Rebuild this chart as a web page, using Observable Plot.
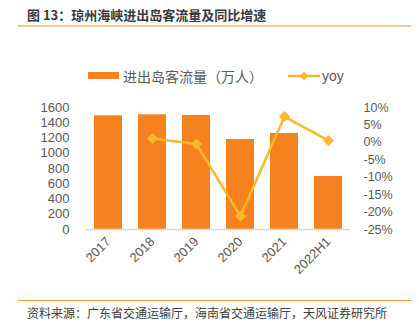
<!DOCTYPE html>
<html><head><meta charset="utf-8">
<script src="https://cdn.jsdelivr.net/npm/d3@7"></script>
<script src="https://cdn.jsdelivr.net/npm/@observablehq/plot@0.6"></script>
<style>
body{margin:0;background:#fff;}
#wrap{position:relative;width:419px;height:329px;overflow:hidden;font-family:"Noto Sans CJK SC","Noto Sans",sans-serif;}
#chart{position:absolute;left:0;top:0;}
.abs{position:absolute;white-space:nowrap;}
#title{left:27px;top:5px;height:20px;line-height:20px;font-size:13px;font-weight:bold;color:#3a3a3a;}
#tline{left:18px;top:25px;width:393px;height:2px;background:#F8C79C;}
#fline{left:18px;top:299.5px;width:393px;height:1.5px;background:#F39C40;}
#foot{left:27px;top:303px;height:20px;line-height:20px;font-size:12px;color:#404040;}
#legRect{left:88px;top:72px;width:31px;height:7px;background:#F5821F;}
#legText1{left:123px;top:66px;height:20px;line-height:20px;font-size:14px;color:#595959;}
#legLine{left:288px;top:70px;}
#legText2{left:322px;top:66px;height:20px;line-height:20px;font-size:14px;color:#595959;font-family:"Liberation Sans",Arial,sans-serif;}
</style></head><body>
<div id="wrap">
  <div id="chart"></div>
  <div class="abs" id="title">图 13：琼州海峡进出岛客流量及同比增速</div>
  <div class="abs" id="tline"></div>
  <div class="abs" id="legRect"></div>
  <div class="abs" id="legText1">进出岛客流量（万人）</div>
  <svg class="abs" id="legLine" width="34" height="12"><line x1="0" y1="6" x2="32" y2="6" stroke="#FBB829" stroke-width="2.5"/><path d="M16,1.5 L20.5,6 L16,10.5 L11.5,6 Z" fill="#FBB829"/></svg>
  <div class="abs" id="legText2">yoy</div>
  <div class="abs" id="fline"></div>
  <div class="abs" id="foot">资料来源：广东省交通运输厅，海南省交通运输厅，天风证券研究所</div>
</div>
<script>
const years = ["2017","2018","2019","2020","2021","2022H1"];
const passengers = [1491, 1504, 1495, 1180, 1259, 695];
const yoyYears = ["2018","2019","2020","2021","2022H1"];
const yoy = [1.1, -0.5, -21.2, 7.4, 0.5];
const leftTicks = [0, 200, 400, 600, 800, 1000, 1200, 1400, 1600];
const rightTicks = [10, 5, 0, -5, -10, -15, -20, -25];

const rMin = -25, rMax = 10, lMax = 1600;
const toLeft = v => (v - rMin) / (rMax - rMin) * lMax;
const fromLeft = v => v / lMax * (rMax - rMin) + rMin;

const barData = years.map((y, i) => ({year: y, value: passengers[i]}));
const lineData = yoyYears.map((y, i) => ({year: y, v: toLeft(yoy[i])}));

const chart = Plot.plot({
  width: 419,
  height: 329,
  marginTop: 107,
  marginBottom: 100,
  marginLeft: 86,
  marginRight: 69,
  style: {fontFamily: "'Liberation Sans', Arial, sans-serif", background: "transparent"},
  x: {domain: years, paddingInner: 0.364, paddingOuter: 0.182},
  y: {domain: [0, lMax]},
  marks: [
    Plot.barY(barData, {x: "year", y: "value", fill: "#F5821F"}),
    Plot.ruleY([0], {stroke: "#D9D9D9", strokeWidth: 1.5}),
    Plot.line(lineData, {x: "year", y: "v", stroke: "#FBB829", strokeWidth: 2.5}),
    Plot.dot(lineData, {x: "year", y: "v", symbol: "diamond2", r: 5, fill: "#FBB829", stroke: "none"}),
    Plot.axisY(leftTicks, {anchor: "left", tickSize: 0, tickPadding: 17, fontSize: 13, fill: "#595959", label: null, tickFormat: d => String(d)}),
    Plot.axisY(rightTicks.map(toLeft), {anchor: "right", tickSize: 0, tickPadding: 13, fontSize: 12.5, fill: "#595959", label: null, tickFormat: d => Math.round(fromLeft(d)) + "%"}),
    Plot.axisX({tickRotate: -45, tickSize: 0, tickPadding: 10, fontSize: 13, fill: "#595959", label: null})
  ]
});
document.getElementById("chart").appendChild(chart);
</script>
</body></html>
